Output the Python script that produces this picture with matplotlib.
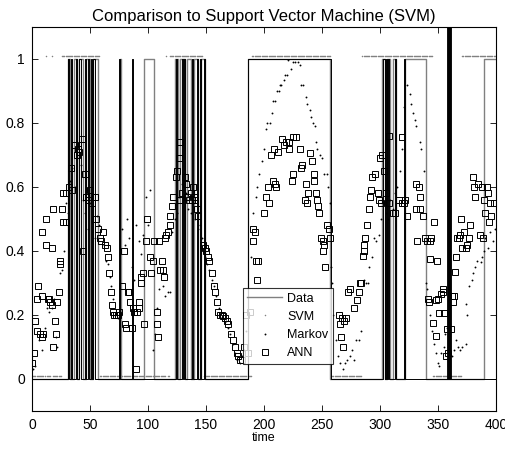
import matplotlib
matplotlib.use("Agg")
import matplotlib.pyplot as plt
import numpy as np

plt.rcParams['font.family'] = ['Liberation Sans', 'DejaVu Sans']

# --- data ---
# state toggles of the measured signal (starts at 0)
data_toggles = [31, 33, 36, 39, 41, 44, 47, 50, 53, 57, 76, 77, 97, 105,
                123, 126, 128, 132, 134, 137, 140, 143, 146, 149, 186, 257,
                302, 304, 306, 309, 311, 314, 322, 340, 390]
# state toggles of the thin black binary trace (starts at 0)
black_toggles = [31, 32, 34, 35, 38, 39, 41, 42, 46, 47, 48, 49, 51, 52,
                 53, 54, 75, 76, 86, 87, 124, 125, 129, 130, 131, 132,
                 138, 139, 142, 143, 145, 146, 148, 149, 186, 258,
                 303, 304, 305, 306, 307, 308, 313, 314, 321, 322]
marker_time = 360

# SVM classification: times where the class switches (starts at 0)
svm_switch = [12, 13, 17, 18, 26, 59, 116, 117, 119, 148, 190, 258, 285,
              346, 371]

ann_t = [0.5, 1.5, 2.6, 4, 4.5, 5.7, 7, 8.3, 8.5, 9, 10, 11.8, 12.6, 14, 15,
         16, 17, 17.5, 18, 18.5, 20, 21, 21.5, 23, 24, 24.5, 26, 26.5, 27, 29,
         29.5, 32, 33.6, 35, 37, 38.5, 40, 41, 43, 43.7, 45.7, 47, 48.5, 50,
         52, 54, 55, 56.6, 58.6, 60, 61, 63, 64.4, 65.6, 66.6, 67.8, 68.7, 70,
         71, 72.5, 74, 75, 78, 79, 80, 81, 83, 84, 85, 86, 87, 88.4, 89.6,
         90.5, 92, 92.5, 93.7, 94.5, 95.5, 96.5, 98, 99, 101.7, 103, 104.6,
         105, 107.5, 108, 109, 110, 110.5, 112.4, 113, 113.6, 115, 116, 117,
         119, 119.5, 120.5, 121.6, 124, 125, 127, 127.5, 128, 129.6, 132, 133,
         134, 135.5, 137, 138, 139, 140, 141, 142, 143, 147.7, 149, 150.5, 152,
         153, 155, 156.6, 158, 159.3, 160.7, 162, 163.5, 165, 166.5, 168,
         169.5, 172, 173.6, 175, 176.4, 178, 179.5, 181, 183, 185, 186.5, 188,
         190.5, 191, 192.5, 193, 194, 195, 200, 202, 203.5, 204.5, 206, 208,
         208.5, 210, 210.6, 212, 215.7, 217, 219, 221.5, 222, 224, 225, 225.5,
         228, 231, 232, 233, 235.5, 236, 237.5, 238, 240, 241.5, 243, 243.5,
         245, 245.5, 246.7, 247.5, 249.4, 250.6, 251, 252, 253, 254, 256.4,
         257, 264.5, 265.5, 266.5, 267.5, 268.5, 269.5, 271, 272.4, 274, 278,
         280, 282, 282.5, 284, 285.3, 286, 286.7, 287.5, 289, 291, 291.5, 292,
         293, 296, 298.6, 299, 299.7, 301, 302, 303.6, 305, 307.6, 308, 311,
         313, 316.5, 319, 319.5, 321, 322, 323, 331, 331.5, 332, 334, 334.5,
         335, 337, 338.5, 341, 341.5, 342, 343, 343.5, 344, 346, 347, 348,
         348.6, 349, 350, 351, 353, 354, 354.5, 355.6, 357, 358, 359, 361,
         362.6, 363, 364, 365, 366, 366.5, 368, 369, 370, 371, 372.6, 374,
         375, 377, 378, 380, 381, 382, 385, 386.6, 388, 388.5, 390, 390.5,
         392, 393, 394, 395, 395.5, 398]
ann_y = [0.05, 0.08, 0.18, 0.25, 0.15, 0.29, 0.14, 0.46, 0.26, 0.13, 0.14,
         0.50, 0.42, 0.25, 0.25, 0.24, 0.41, 0.23, 0.53, 0.10, 0.18, 0.14,
         0.24, 0.27, 0.36, 0.37, 0.53, 0.49, 0.58, 0.58, 0.49, 0.60, 0.66,
         0.59, 0.73, 0.70, 0.72, 0.71, 0.75, 0.40, 0.64, 0.57, 0.56, 0.59,
         0.55, 0.57, 0.50, 0.47, 0.44, 0.43, 0.46, 0.42, 0.41, 0.38, 0.33,
         0.27, 0.23, 0.21, 0.20, 0.20, 0.20, 0.21, 0.29, 0.40, 0.17, 0.16,
         0.27, 0.27, 0.24, 0.16, 0.22, 0.21, 0.03, 0.21, 0.24, 0.22, 0.30,
         0.32, 0.33, 0.17, 0.43, 0.50, 0.38, 0.33, 0.37, 0.43, 0.21, 0.17,
         0.13, 0.43, 0.34, 0.37, 0.34, 0.32, 0.44, 0.45, 0.46, 0.48, 0.51,
         0.54, 0.57, 0.63, 0.65, 0.69, 0.56, 0.74, 0.58, 0.63, 0.61, 0.57,
         0.56, 0.58, 0.56, 0.60, 0.57, 0.56, 0.53, 0.51, 0.42, 0.41, 0.40,
         0.38, 0.37, 0.33, 0.29, 0.27, 0.24, 0.21, 0.20, 0.20, 0.195, 0.19,
         0.18, 0.17, 0.14, 0.12, 0.10, 0.08, 0.07, 0.06, 0.06, 0.10, 0.20,
         0.08, 0.21, 0.47, 0.43, 0.46, 0.37, 0.31, 0.37, 0.52, 0.57, 0.60,
         0.55, 0.70, 0.62, 0.72, 0.61, 0.60, 0.71, 0.75, 0.73, 0.74, 0.72,
         0.74, 0.62, 0.64, 0.755, 0.755, 0.72, 0.66, 0.67, 0.56, 0.61, 0.55,
         0.58, 0.705, 0.68, 0.64, 0.62, 0.58, 0.56, 0.54, 0.52, 0.44, 0.43,
         0.40, 0.42, 0.35, 0.48, 0.47, 0.44, 0.20, 0.17, 0.13, 0.19, 0.10,
         0.18, 0.19, 0.27, 0.28, 0.22, 0.245, 0.27, 0.30, 0.30, 0.385, 0.40,
         0.42, 0.44, 0.48, 0.53, 0.57, 0.59, 0.63, 0.64, 0.58, 0.56, 0.69,
         0.55, 0.70, 0.65, 0.58, 0.55, 0.76, 0.52, 0.52, 0.56, 0.755, 0.55,
         0.55, 0.56, 0.51, 0.61, 0.53, 0.43, 0.60, 0.53, 0.57, 0.51, 0.44,
         0.43, 0.25, 0.24, 0.43, 0.375, 0.44, 0.175, 0.49, 0.135, 0.245, 0.37,
         0.25, 0.205, 0.265, 0.27, 0.28, 0.205, 0.07, 0.155, 0.08, 0.155,
         0.26, 0.24, 0.26, 0.335, 0.38, 0.44, 0.44, 0.45, 0.50, 0.41, 0.46,
         0.41, 0.42, 0.44, 0.48, 0.63, 0.60, 0.57, 0.61, 0.45, 0.60, 0.44,
         0.56, 0.52, 0.60, 0.58, 0.49, 0.55, 0.51, 0.55]

markov_t = [1, 3, 6, 9, 11, 13, 15, 17, 19, 21, 22, 24, 26, 28, 29, 31, 33,
            35, 37, 39, 42, 44, 46, 48, 50, 52, 54, 56, 58, 60, 62, 64, 66, 67,
            68, 70, 72, 74, 76, 78, 80, 82, 84, 86, 88, 90, 92, 94, 96, 98,
            100, 102, 104, 106, 108, 110, 112, 113, 115, 117, 119, 121, 123,
            125, 127, 129, 131, 133, 135, 137, 139, 141, 143, 145, 147, 149,
            151, 153, 155, 157, 159, 161, 163, 165, 167, 169, 171, 173, 175,
            177, 179, 181, 183, 185, 187, 189, 191, 193, 194, 196, 198.6,
            200.5, 202, 203, 205, 207, 208, 210, 211, 213, 214, 215, 217, 218,
            220, 221, 223, 225, 227, 229, 231, 232, 234, 236, 237.6, 240, 241,
            242.5, 244, 245, 246, 248, 250, 252, 254, 255, 257, 258, 259, 260,
            262, 264, 266, 268, 270, 272, 274, 276, 278, 279, 282, 284, 286,
            288, 290, 291, 293, 295, 297, 299, 301, 303, 305, 307, 309, 311,
            313, 315, 317, 319, 321, 323, 325.6, 327, 328.6, 330, 331, 334.3,
            335.7, 338, 339.5, 341, 343, 345, 347, 348, 350, 351, 353, 355,
            356, 358, 359, 362, 364, 365.6, 367, 369, 371, 374, 374.5, 375,
            377, 379, 380, 382, 384, 387, 388, 390, 391, 393, 395, 397.5, 399]
markov_y = [0.03, 0.04, 0.12, 0.09, 0.16, 0.22, 0.21, 0.22, 0.25, 0.13,
            0.10, 0.33, 0.34, 0.40, 0.55, 0.52, 0.62, 0.66, 0.60, 0.69, 0.67,
            0.56, 0.52, 0.47, 0.55, 0.49, 0.44, 0.51, 0.48, 0.47, 0.42, 0.37,
            0.36, 0.32, 0.29, 0.25, 0.20, 0.19, 0.20, 0.47, 0.42, 0.50, 0.44,
            0.35, 0.31, 0.48, 0.43, 0.39, 0.45, 0.57, 0.48, 0.59, 0.09, 0.14,
            0.22, 0.28, 0.33, 0.29, 0.26, 0.27, 0.27, 0.46, 0.50, 0.52, 0.57,
            0.61, 0.64, 0.58, 0.53, 0.52, 0.55, 0.50, 0.47, 0.48, 0.44, 0.38,
            0.36, 0.34, 0.31, 0.29, 0.26, 0.22, 0.19, 0.19, 0.18, 0.16, 0.14,
            0.11, 0.08, 0.06, 0.05, 0.07, 0.09, 0.15, 0.20, 0.38, 0.52, 0.57,
            0.60, 0.64, 0.68, 0.72, 0.78, 0.80, 0.80, 0.83, 0.87, 0.87, 0.90,
            0.90, 0.92, 0.92, 0.935, 0.95, 0.95, 0.997, 0.97, 0.99, 0.99, 0.99,
            0.98, 0.92, 0.92, 0.88, 0.86, 0.84, 0.82, 0.80, 0.79, 0.74, 0.72,
            0.70, 0.69, 0.64, 0.64, 0.60, 0.55, 0.35, 0.30, 0.20, 0.12, 0.07,
            0.05, 0.03, 0.05, 0.06, 0.07, 0.09, 0.06, 0.12, 0.12, 0.15, 0.31,
            0.30, 0.30, 0.35, 0.38, 0.44, 0.43, 0.45, 0.50, 0.55, 0.52, 0.50,
            0.56, 0.53, 0.58, 0.60, 0.65, 0.72, 0.85, 0.92, 0.89, 0.86, 0.83,
            0.81, 0.79, 0.74, 0.72, 0.65, 0.30, 0.28, 0.20, 0.15, 0.11, 0.08,
            0.05, 0.04, 0.08, 0.10, 0.14, 0.16, 0.10, 0.07, 0.09, 0.12, 0.10,
            0.09, 0.10, 0.11, 0.235, 0.20, 0.29, 0.31, 0.33, 0.35, 0.37, 0.364,
            0.38, 0.40, 0.44, 0.41, 0.46, 0.43, 0.47]


def step_xy(toggles, t_end):
    xs, ys, s = [0], [0], 0
    for t in toggles:
        xs += [t, t]
        ys += [s, 1 - s]
        s = 1 - s
    xs.append(t_end)
    ys.append(s)
    return xs, ys


svm_t = np.arange(0, 400)
svm_y = np.searchsorted(svm_switch, svm_t, side='right') % 2

fig = plt.figure(figsize=(5.06, 4.5), dpi=100)
ax = fig.add_axes([0.063, 0.087, 0.917, 0.853])

gray = '#808080'
dx, dy = step_xy(data_toggles, 400)
ax.plot(dx, dy, color=gray, lw=1.0, label='Data')
ax.plot(svm_t, svm_y + 0.01, '.', color=gray, ms=2.2, mew=0, label='SVM')
ax.plot(markov_t, markov_y, '.', color='k', ms=2.7, mew=0, label='Markov')
ax.plot(ann_t, ann_y, 's', mfc='none', mec='k', ms=4.2, mew=0.7, label='ANN')
bx, by = step_xy(black_toggles, 400)
ax.plot(bx, by, color='k', lw=0.7)
ax.vlines(marker_time, 0, 1.1, color='k', lw=3.5)

ax.set_xlim(0, 400)
ax.set_ylim(-0.1, 1.1)
ax.set_xticks(np.arange(0, 401, 50))
ax.set_yticks([0, 0.2, 0.4, 0.6, 0.8, 1])
ax.set_yticklabels(['0', '0.2', '0.4', '0.6', '0.8', '1'])
ax.tick_params(direction='in', top=True, right=True, length=4.5, width=0.6,
               labelsize=10, pad=5)
for sp in ax.spines.values():
    sp.set_linewidth(0.8)
ax.set_xlabel('time', fontsize=9, labelpad=0)
ax.set_title('Comparison to Support Vector Machine (SVM)', fontsize=12, pad=4)

leg = ax.legend(loc='lower left', bbox_to_anchor=(0.455, 0.123), fontsize=9,
                frameon=True, fancybox=False, edgecolor='k', handlelength=2.8,
                borderpad=0.35, labelspacing=0.5, handletextpad=0.4,
                borderaxespad=0, markerscale=1.0)
leg.get_frame().set_linewidth(0.8)

fig.savefig('out.png', dpi=100)
